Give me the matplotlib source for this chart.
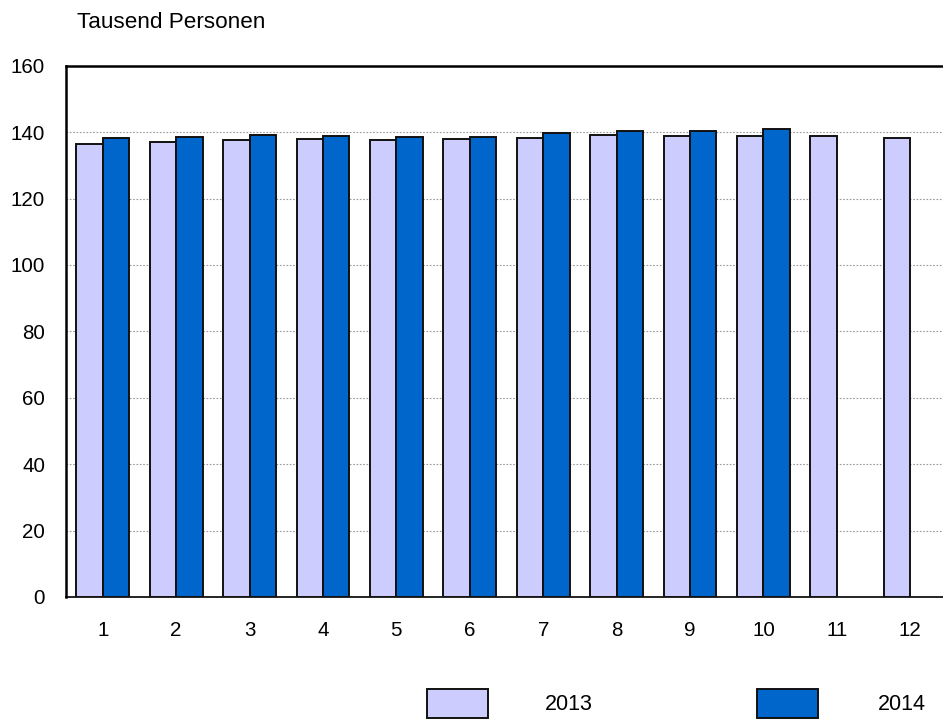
import matplotlib.pyplot as plt
from matplotlib.patches import Rectangle
import numpy as np

# === Data ===
months = [1, 2, 3, 4, 5, 6, 7, 8, 9, 10, 11, 12]
values_2013 = [136.4, 137.0, 137.6, 138.0, 137.7, 137.8, 138.3, 139.0, 138.9, 138.9, 138.7, 138.3]
values_2014 = [138.3, 138.4, 139.0, 138.8, 138.4, 138.6, 139.8, 140.2, 140.2, 141.0]
series_labels = ["2013", "2014"]
y_ticks = [0, 20, 40, 60, 80, 100, 120, 140, 160]

color_2013 = "#CCCCFF"
color_2014 = "#0066CC"

plt.rcParams['font.family'] = ['Liberation Sans', 'DejaVu Sans']

# === Plotting ===
fig = plt.figure(figsize=(9.43, 7.2), dpi=100)
ax = fig.add_axes([66 / 943, 1 - 597 / 720, 881 / 943, (597 - 65.7) / 720])

w = 0.36
x13 = np.arange(len(values_2013)) + 1
x14 = np.arange(len(values_2014)) + 1
ax.bar(x13 - w / 2, values_2013, width=w, color=color_2013, edgecolor="#111111", linewidth=1.4, zorder=3)
ax.bar(x14 + w / 2, values_2014, width=w, color=color_2014, edgecolor="#111111", linewidth=1.4, zorder=3)

ax.set_xlim(0.5, 12.5)
ax.set_ylim(0, 160)
ax.set_xticks(months)
ax.set_xticklabels([str(m) for m in months])
ax.set_yticks(y_ticks)
ax.tick_params(axis='both', length=0, labelsize=14.8)
ax.tick_params(axis='y', pad=15)
ax.tick_params(axis='x', pad=17)

for yv in y_ticks[1:-1]:
    ax.axhline(yv, color="#999999", linewidth=0.8, linestyle=(0, (1.5, 1.5)), zorder=1)

ax.spines['right'].set_visible(False)
ax.spines['left'].set_linewidth(1.8)
ax.spines['top'].set_linewidth(1.8)
ax.spines['bottom'].set_linewidth(1.2)
for s in ['left', 'top', 'bottom']:
    ax.spines[s].set_color("black")

fig.text(77 / 943, 1 - 22 / 720, "Tausend Personen", fontsize=16.2, va='center', ha='left')

# === Legend ===
for (bx, tx, label, col) in [(427, 545, series_labels[0], color_2013),
                              (757, 878, series_labels[1], color_2014)]:
    fig.add_artist(Rectangle((bx / 943, 1 - 718 / 720), 61 / 943, 29 / 720,
                             transform=fig.transFigure, facecolor=col,
                             edgecolor="#111111", linewidth=1.4))
    fig.text(tx / 943, 1 - 705 / 720, label, fontsize=15.5, va='center', ha='left')

plt.savefig("out.png", dpi=100)
